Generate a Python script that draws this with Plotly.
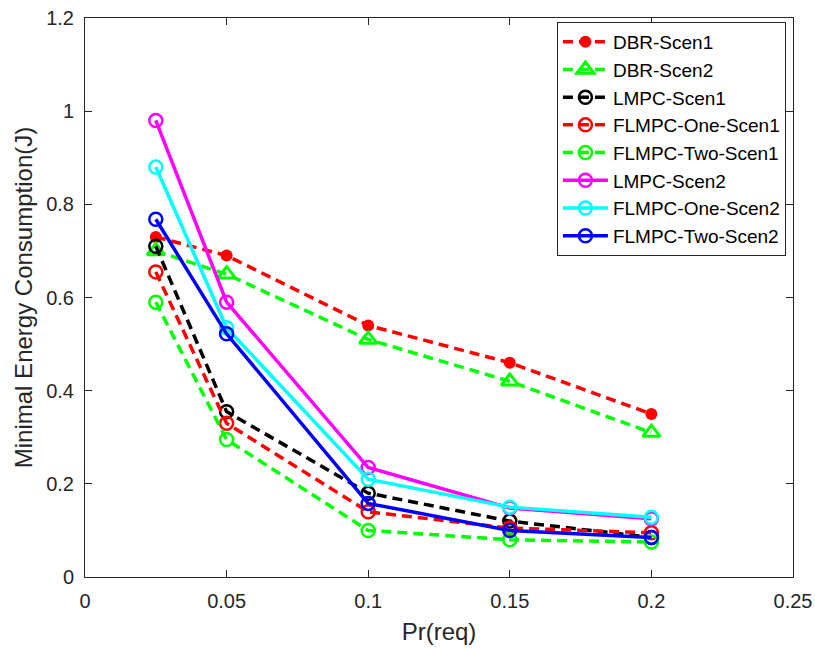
import plotly.graph_objects as go

# Request probability on the x axis
pr_req = [0.025, 0.05, 0.1, 0.15, 0.2]

# Minimal energy consumption (J) per scheme
dbr_scen1 = [0.73, 0.69, 0.54, 0.46, 0.35]
dbr_scen2 = [0.70, 0.65, 0.51, 0.42, 0.31]
lmpc_scen1 = [0.71, 0.355, 0.18, 0.12, 0.085]
flmpc_one_scen1 = [0.655, 0.33, 0.14, 0.105, 0.095]
flmpc_two_scen1 = [0.59, 0.295, 0.10, 0.08, 0.075]
lmpc_scen2 = [0.98, 0.59, 0.235, 0.148, 0.125]
flmpc_one_scen2 = [0.88, 0.535, 0.21, 0.15, 0.128]
flmpc_two_scen2 = [0.768, 0.522, 0.158, 0.10, 0.085]

x_ticks = [0, 0.05, 0.1, 0.15, 0.2, 0.25]
x_tick_text = ["0", "0.05", "0.1", "0.15", "0.2", "0.25"]
y_ticks = [0, 0.2, 0.4, 0.6, 0.8, 1.0, 1.2]
y_tick_text = ["0", "0.2", "0.4", "0.6", "0.8", "1", "1.2"]

DASH = "10px,6px"
FONT = "Liberation Sans, Arial, Helvetica"

series = [
    ("DBR-Scen1", dbr_scen1, "#ff0000", DASH, "circle", 12, 0),
    ("DBR-Scen2", dbr_scen2, "#00ff00", DASH, "triangle-up-open", 15, 3),
    ("LMPC-Scen1", lmpc_scen1, "#000000", DASH, "circle-open", 13, 2.5),
    ("FLMPC-One-Scen1", flmpc_one_scen1, "#ff0000", DASH, "circle-open", 13, 2.5),
    ("FLMPC-Two-Scen1", flmpc_two_scen1, "#00ff00", DASH, "circle-open", 13, 2.5),
    ("LMPC-Scen2", lmpc_scen2, "#ff00ff", "solid", "circle-open", 13, 2.5),
    ("FLMPC-One-Scen2", flmpc_one_scen2, "#00ffff", "solid", "circle-open", 13, 2.5),
    ("FLMPC-Two-Scen2", flmpc_two_scen2, "#0000ff", "solid", "circle-open", 13, 2.5),
]

fig = go.Figure()
for name, vals, color, dash, symbol, size, mlw in series:
    fig.add_trace(go.Scatter(
        x=pr_req, y=vals, name=name, mode="lines+markers",
        line=dict(color=color, width=3.5, dash=dash),
        marker=dict(symbol=symbol, size=size, color=color,
                    line=dict(color=color, width=mlw)),
    ))

axis_common = dict(
    showgrid=False, zeroline=False, showline=True, mirror="allticks",
    linecolor="#262626", linewidth=1, ticks="inside", ticklen=7,
    tickcolor="#262626", automargin=False,
    tickfont=dict(family=FONT, size=20, color="#262626"),
)

fig.update_layout(
    width=815, height=649,
    margin=dict(l=85, r=22, t=18, b=72),
    paper_bgcolor="white", plot_bgcolor="white",
    font=dict(family=FONT, color="#262626"),
    xaxis=dict(range=[0, 0.25], tickvals=x_ticks, ticktext=x_tick_text,
               ticklabelstandoff=6,
               title=dict(text="Pr(req)", font=dict(size=24), standoff=12),
               **axis_common),
    yaxis=dict(range=[0, 1.2], tickvals=y_ticks, ticktext=y_tick_text,
               ticklabelstandoff=6,
               title=dict(text="Minimal Energy Consumption(J)", font=dict(size=24), standoff=6),
               **axis_common),
    legend=dict(x=0.99, y=0.993, xanchor="right", yanchor="top",
                bgcolor="white", bordercolor="#262626", borderwidth=1,
                itemwidth=45,
                font=dict(family=FONT, size=19, color="#000000"),
                tracegroupgap=0),
)

fig.write_html("out.html")
